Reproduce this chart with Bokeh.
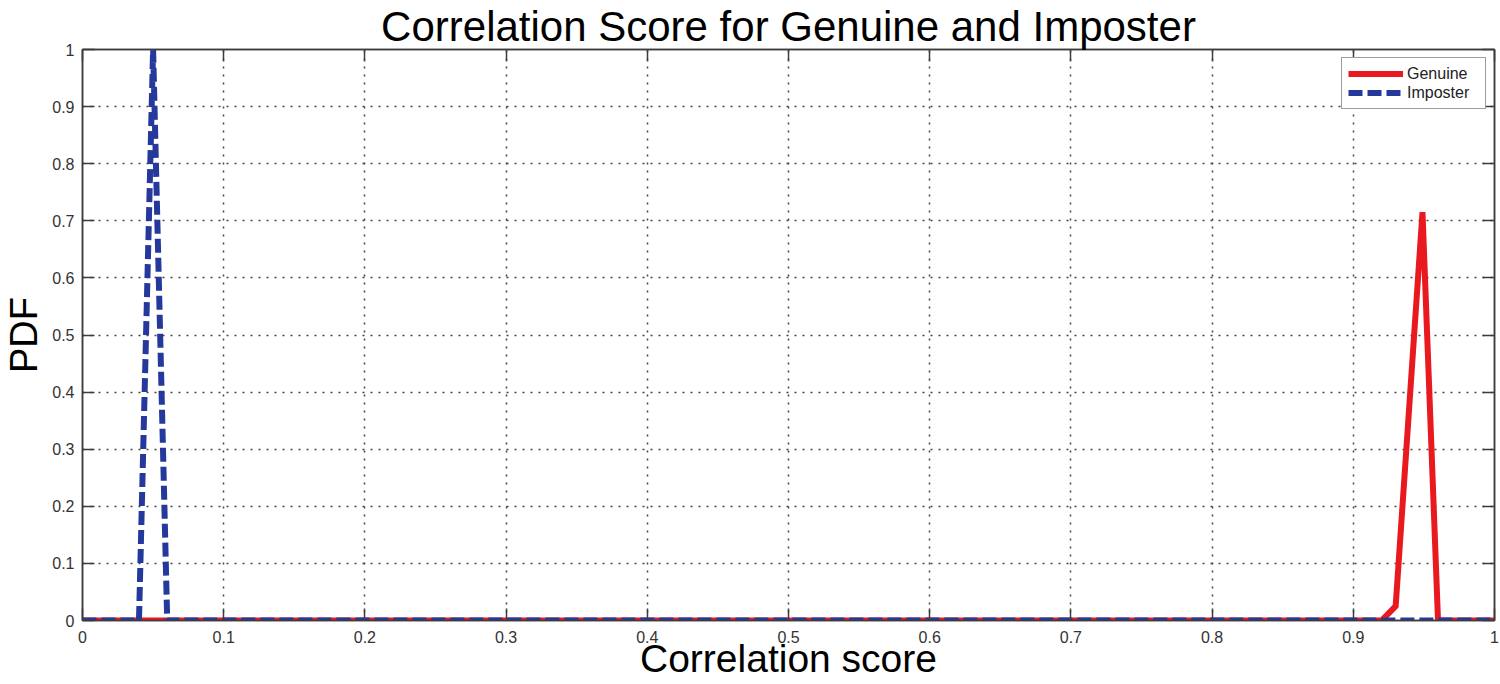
from bokeh.plotting import figure
from bokeh.models import Range1d, FixedTicker, LinearAxis, CustomJSTickFormatter, Legend, LegendItem
from bokeh.embed import file_html
from bokeh.resources import INLINE

# Data
genuine_x = [0.0, 0.92, 0.93, 0.949, 0.96, 1.0]
genuine_y = [0.0, 0.0, 0.025, 0.715, 0.0, 0.0]
imposter_x = [0.0, 0.04, 0.05, 0.06, 1.0]
imposter_y = [0.0, 0.0, 1.0, 0.0, 0.0]
x_ticks = [0, 0.1, 0.2, 0.3, 0.4, 0.5, 0.6, 0.7, 0.8, 0.9, 1]
y_ticks = [0, 0.1, 0.2, 0.3, 0.4, 0.5, 0.6, 0.7, 0.8, 0.9, 1]

RED = "#e8191f"
BLUE = "#24399b"
AX = "#3c3c3c"
FONT = "Liberation Sans"

p = figure(width=1500, height=684, output_backend="svg", toolbar_location=None,
           x_range=Range1d(0, 1), y_range=Range1d(0, 1),
           min_border_left=82, min_border_right=6, min_border_top=49, min_border_bottom=64)
p.title.text = "Correlation Score for Genuine and Imposter"
p.title.text_font = FONT
p.title.text_font_size = "42px"
p.title.text_font_style = "normal"
p.title.align = "center"
p.title.standoff = 0
p.title.text_color = "black"

fmt = CustomJSTickFormatter(code="return Number(tick.toFixed(2)).toString();")

for ax, ticks in ((p.xaxis[0], x_ticks), (p.yaxis[0], y_ticks)):
    ax.ticker = FixedTicker(ticks=ticks)
    ax.formatter = fmt
    ax.major_tick_in = 12
    ax.major_tick_out = 0
    ax.minor_tick_in = 0
    ax.minor_tick_out = 0
    ax.axis_line_color = AX
    ax.axis_line_width = 1.5
    ax.major_tick_line_color = AX
    ax.major_tick_line_width = 1.5
    ax.major_label_text_font = FONT
    ax.major_label_text_font_size = "16px"
    ax.major_label_text_color = "#333333"
    ax.axis_label_text_font = FONT
    ax.axis_label_text_font_style = "normal"
    ax.axis_label_text_color = "black"

p.xaxis[0].axis_label = "Correlation score"
p.xaxis[0].axis_label_text_font_size = "39px"
p.xaxis[0].major_label_standoff = 10
p.xaxis[0].axis_label_standoff = -9
p.yaxis[0].axis_label = "PDF"
p.yaxis[0].axis_label_text_font_size = "38px"
p.yaxis[0].major_label_standoff = 8
p.yaxis[0].axis_label_standoff = 4

for side, ticks in (("above", x_ticks), ("right", y_ticks)):
    a = LinearAxis(ticker=FixedTicker(ticks=ticks), major_label_text_font_size="0px",
                   major_label_standoff=0, major_tick_in=12, major_tick_out=0,
                   minor_tick_in=0, minor_tick_out=0,
                   axis_line_color=AX, axis_line_width=1.5,
                   major_tick_line_color=AX, major_tick_line_width=1.5)
    a.major_label_text_color = None
    p.add_layout(a, side)

p.xgrid.ticker = FixedTicker(ticks=x_ticks)
p.ygrid.ticker = FixedTicker(ticks=y_ticks)
for g in (p.xgrid[0], p.ygrid[0]):
    g.grid_line_color = "#444444"
    g.grid_line_dash = "2 6"
    g.grid_line_width = 1.5
    g.grid_line_alpha = 1.0

p.outline_line_color = AX
p.outline_line_width = 1.5
p.background_fill_color = "white"
p.border_fill_color = "white"

r1 = p.line(genuine_x, genuine_y, line_color=RED, line_width=6, line_join="miter")
r2 = p.line(imposter_x, imposter_y, line_color=BLUE, line_width=6, line_dash="14 5")

legend = Legend(items=[LegendItem(label="Genuine", renderers=[r1]),
                       LegendItem(label="Imposter", renderers=[r2])],
                location="top_right", margin=8, padding=6, spacing=0,
                glyph_width=55, glyph_height=19, label_height=19, label_width=72,
                label_standoff=4,
                label_text_font=FONT, label_text_font_size="16px", label_text_color="#222222",
                border_line_color=AX, border_line_width=1.5, background_fill_alpha=1.0)
p.add_layout(legend, "center")

open("out.html", "w").write(file_html(p, INLINE))
